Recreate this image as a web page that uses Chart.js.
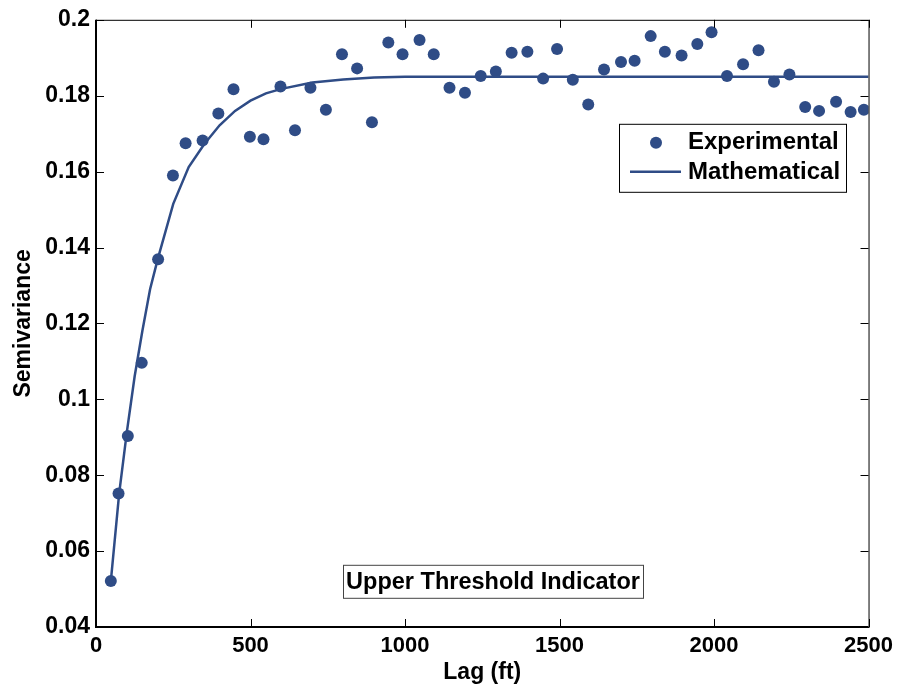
<!DOCTYPE html>
<html>
<head>
<meta charset="utf-8">
<script src="https://cdn.jsdelivr.net/npm/chart.js@4/dist/chart.umd.min.js"></script>
<style>
  html, body { margin: 0; padding: 0; background: #fff; }
  #wrap { width: 899px; height: 690px; position: relative; }
</style>
</head>
<body>
<div id="wrap"><canvas id="semivariogram"></canvas></div>
<script>
// experimental semivariance
const lagExp = [48, 73, 103, 148, 201, 249, 290, 345, 396, 445,
  498, 542, 597, 644, 694, 744, 796, 845, 893, 946,
  992, 1047, 1093, 1144, 1194, 1245, 1294, 1345, 1396, 1447,
  1492, 1543, 1593, 1644, 1699, 1743, 1795, 1841, 1895, 1946,
  1992, 2042, 2094, 2144, 2194, 2244, 2295, 2340, 2395, 2442, 2485];
const semiExp = [0.0521, 0.0752, 0.0903, 0.1096, 0.1369, 0.1590, 0.1675, 0.1682, 0.1753, 0.1817,
  0.1692, 0.1685, 0.1824, 0.1709, 0.1821, 0.1763, 0.1909, 0.1872, 0.1730, 0.1940,
  0.1909, 0.1947, 0.1909, 0.1821, 0.1808, 0.1852, 0.1864, 0.1913, 0.1916, 0.1845,
  0.1923, 0.1842, 0.1777, 0.1869, 0.1889, 0.1892, 0.1957, 0.1916, 0.1906, 0.1936,
  0.1967, 0.1852, 0.1883, 0.1920, 0.1837, 0.1856, 0.1770, 0.1760, 0.1784, 0.1757, 0.1763];

// fitted model curve
const lagModel = [48, 75, 100, 125, 150, 175, 200, 250, 300, 350, 400, 450,
  500, 550, 600, 700, 800, 900, 1000, 2500];
const semiModel = [0.0521, 0.0752, 0.0915, 0.1060, 0.1180, 0.1290, 0.1370, 0.1515, 0.1612, 0.1672, 0.1722, 0.1760,
  0.1787, 0.1806, 0.1818, 0.1835, 0.1843, 0.1848, 0.1850, 0.1850];

const xTicks = [0, 500, 1000, 1500, 2000, 2500];
const yTicks = [0.04, 0.06, 0.08, 0.1, 0.12, 0.14, 0.16, 0.18, 0.2];

const seriesNames = ['Experimental', 'Mathematical'];
const noteText = 'Upper Threshold Indicator';

const BLUE = '#2f4c86';
const FONT = '"Liberation Sans", Arial, Helvetica, sans-serif';

function toXY(xs, ys) {
  return xs.map((x, i) => ({ x: x, y: ys[i] }));
}

// frame + inward ticks, legend box and note box
const decor = {
  id: 'decor',
  afterDraw(chart) {
    const { ctx, chartArea: a, scales } = chart;
    const tl = 8;
    ctx.save();
    ctx.strokeStyle = '#000';
    ctx.lineWidth = 1;
    ctx.strokeRect(a.left + 0.5, a.top + 0.5, a.right - a.left, a.bottom - a.top);
    ctx.lineWidth = 2;
    ctx.beginPath();
    ctx.moveTo(a.left, a.top);
    ctx.lineTo(a.left, a.bottom);
    ctx.lineTo(a.right, a.bottom);
    ctx.stroke();

    ctx.lineWidth = 1;
    ctx.beginPath();
    xTicks.forEach(v => {
      const px = Math.round(scales.x.getPixelForValue(v)) + 0.5;
      ctx.moveTo(px, a.bottom); ctx.lineTo(px, a.bottom - tl);
      ctx.moveTo(px, a.top); ctx.lineTo(px, a.top + tl);
    });
    yTicks.forEach(v => {
      const py = Math.round(scales.y.getPixelForValue(v)) + 0.5;
      ctx.moveTo(a.left, py); ctx.lineTo(a.left + tl, py);
      ctx.moveTo(a.right, py); ctx.lineTo(a.right - tl, py);
    });
    ctx.stroke();

    // legend
    const lx = a.left + 523, ly = a.top + 104, lw = 227, lh = 68;
    ctx.fillStyle = '#fff';
    ctx.fillRect(lx, ly, lw, lh);
    ctx.strokeStyle = '#000';
    ctx.lineWidth = 1;
    ctx.strokeRect(lx + 0.5, ly + 0.5, lw, lh);
    ctx.fillStyle = BLUE;
    ctx.beginPath();
    ctx.arc(lx + 37, ly + 19, 6, 0, Math.PI * 2);
    ctx.fill();
    ctx.strokeStyle = BLUE;
    ctx.lineWidth = 2.5;
    ctx.beginPath();
    ctx.moveTo(lx + 11, ly + 48);
    ctx.lineTo(lx + 62, ly + 48);
    ctx.stroke();
    ctx.fillStyle = '#000';
    ctx.font = 'bold 24px ' + FONT;
    ctx.textBaseline = 'middle';
    ctx.textAlign = 'left';
    ctx.fillText(seriesNames[0], lx + 69, ly + 19);
    ctx.fillText(seriesNames[1], lx + 69, ly + 49);

    // note box
    const nx = a.left + 247, ny = a.top + 545, nw = 300, nh = 33;
    ctx.strokeStyle = '#444';
    ctx.lineWidth = 1;
    ctx.strokeRect(nx + 0.5, ny + 0.5, nw, nh);
    ctx.fillStyle = '#000';
    ctx.font = 'bold 23.5px ' + FONT;
    ctx.textAlign = 'center';
    ctx.fillText(noteText, nx + nw / 2, ny + nh / 2 + 1);
    ctx.restore();
  }
};

new Chart(document.getElementById('semivariogram'), {
  type: 'scatter',
  data: {
    datasets: [
      {
        label: seriesNames[0],
        data: toXY(lagExp, semiExp),
        backgroundColor: BLUE,
        borderColor: BLUE,
        pointRadius: 6,
        pointBorderWidth: 0,
        showLine: false,
        order: 1,
      },
      {
        label: seriesNames[1],
        data: toXY(lagModel, semiModel),
        borderColor: BLUE,
        borderWidth: 2.5,
        pointRadius: 0,
        showLine: true,
        tension: 0,
        order: 2,
      },
    ],
  },
  options: {
    responsive: true,
    maintainAspectRatio: false,
    animation: false,
    layout: { padding: { left: 0, top: 17, right: 30, bottom: 0 } },
    plugins: {
      legend: { display: false },
      tooltip: { enabled: false },
    },
    scales: {
      x: {
        type: 'linear',
        min: 0,
        max: 2500,
        afterFit: (s) => { s.height = 63; },
        afterBuildTicks: (s) => { s.ticks = xTicks.map(v => ({ value: v })); },
        grid: { display: false, drawTicks: false },
        border: { display: false },
        ticks: {
          color: '#000',
          padding: 6,
          maxRotation: 0,
          font: { family: FONT, size: 22, weight: 'bold' },
          callback: (v) => String(v),
        },
        title: {
          display: true,
          text: 'Lag (ft)',
          color: '#000',
          padding: { top: 0, bottom: 6 },
          font: { family: FONT, size: 23, weight: 'bold', lineHeight: 1 },
        },
      },
      y: {
        min: 0.04,
        max: 0.2,
        afterFit: (s) => { s.width = 96; },
        afterBuildTicks: (s) => { s.ticks = yTicks.map(v => ({ value: v })); },
        grid: { display: false, drawTicks: false },
        border: { display: false },
        ticks: {
          color: '#000',
          padding: 6,
          font: { family: FONT, size: 23, weight: 'bold' },
          callback: (v) => String(Math.round(v * 100) / 100),
        },
        title: {
          display: true,
          text: 'Semivariance',
          color: '#000',
          padding: { top: 12, bottom: 0 },
          font: { family: FONT, size: 23, weight: 'bold', lineHeight: 1 },
        },
      },
    },
  },
  plugins: [decor],
});
</script>
</body>
</html>
